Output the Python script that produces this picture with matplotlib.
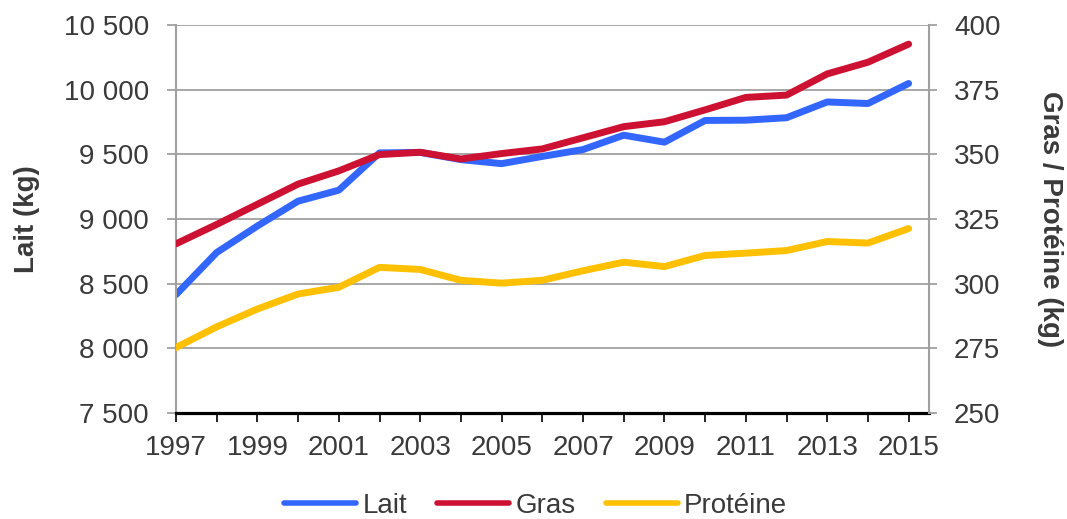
import matplotlib.pyplot as plt
from matplotlib.ticker import FuncFormatter

# Moyennes par vache (kg)
years = list(range(1997, 2016))
lait = [8415, 8741, 8946, 9138, 9223, 9511, 9515, 9459, 9428, 9484,
        9537, 9648, 9594, 9762, 9764, 9783, 9905, 9893, 10048]
gras = [315.4, 322.9, 330.7, 338.5, 343.6, 349.9, 350.8, 348.2, 350.3, 352.1,
        356.4, 360.7, 362.6, 367.2, 372.0, 372.9, 381.1, 385.6, 392.6]
proteine = [275.3, 283.3, 290.2, 296.0, 298.6, 306.3, 305.5, 301.3, 300.2, 301.3,
            305.0, 308.3, 306.6, 310.9, 311.8, 312.8, 316.3, 315.7, 321.3]

plt.rcParams['font.family'] = ['Liberation Sans', 'DejaVu Sans']
txt = '#3a3a3a'
grey = '#a0a0a0'

fig = plt.figure(figsize=(10.67, 5.19), dpi=100)
ax = fig.add_axes([176 / 1067, 1 - 413 / 519, (929 - 176) / 1067, (413 - 25) / 519])
ax2 = ax.twinx()

style = dict(lw=5, solid_capstyle='round', solid_joinstyle='round')
l1, = ax.plot(years, lait, color='#3366ff', label='Lait', **style)
l2, = ax2.plot(years, gras, color='#cc1133', label='Gras', **style)
l3, = ax2.plot(years, proteine, color='#ffc000', label='Protéine', **style)

ax.set_xlim(1997, 2015.5)
ax.set_ylim(7500, 10500)
ax.set_yticks(range(7500, 10501, 500))
ax2.set_ylim(250, 400)
ax2.set_yticks(range(250, 401, 25))
ax.yaxis.set_major_formatter(FuncFormatter(lambda v, p: f'{v:,.0f}'.replace(',', ' ')))

ax.set_xticks(years)
ax.set_xticklabels([str(y) if y % 2 == 1 else '' for y in years])

ax.yaxis.grid(True, color=grey, lw=1.3)
ax.set_axisbelow(True)

for s in ['top', 'right']:
    ax.spines[s].set_visible(False)
for s in ['top', 'left', 'bottom']:
    ax2.spines[s].set_visible(False)
ax.spines['left'].set_color(grey)
ax.spines['left'].set_linewidth(1.5)
ax.spines['bottom'].set_color('black')
ax.spines['bottom'].set_linewidth(2.3)
ax.spines['bottom'].set_zorder(5)
ax2.spines['right'].set_color(grey)
ax2.spines['right'].set_linewidth(1.5)

ax.tick_params(axis='x', direction='out', length=6.5, width=1.2, color='black',
               pad=9, labelsize=20, labelcolor=txt)
ax.tick_params(axis='y', direction='out', length=6.5, width=1.3, color=grey,
               pad=13, labelsize=20, labelcolor=txt)
ax2.tick_params(axis='y', direction='out', length=6, width=1.3, color=grey,
                pad=12, labelsize=20, labelcolor=txt)

ax.set_ylabel('Lait (kg)', fontsize=20, fontweight='bold', color=txt, va='center')
ax.yaxis.set_label_coords(-0.198, 0.5)
ax2.set_ylabel('Gras / Protéine (kg)', fontsize=20, fontweight='bold', color=txt,
               rotation=-90, va='center')
ax2.yaxis.set_label_coords(1.161, 0.5)

leg = fig.legend([l1, l2, l3], ['Lait', 'Gras', 'Protéine'], loc='center',
                 bbox_to_anchor=(0.502, 0.025), ncol=3, frameon=False, fontsize=20,
                 handlelength=2.6, handletextpad=0.22, columnspacing=1.08)
for t in leg.get_texts():
    t.set_color(txt)
for h in leg.get_lines():
    h.set_linewidth(4)

fig.savefig('out.png', dpi=100)
